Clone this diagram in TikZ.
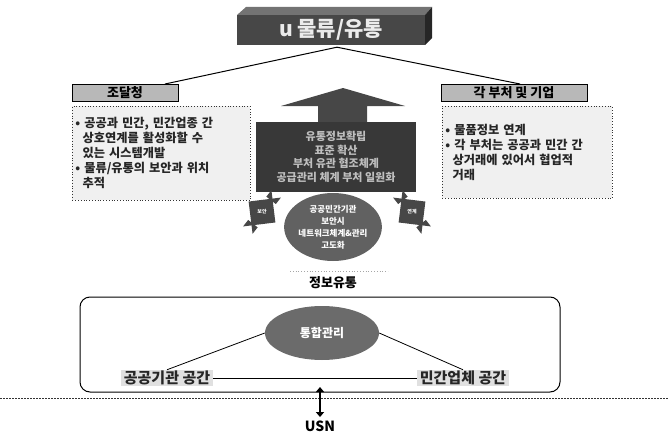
\documentclass[tikz,border=0pt]{standalone}
\usepackage{fontspec}
\setmainfont{Noto Sans CJK KR}
\usetikzlibrary{shapes.geometric,shapes.arrows,arrows.meta}
\begin{document}
\begin{tikzpicture}[x=1pt,y=-1pt,
  topbar/.style={fill=black!72,minimum width=188pt,minimum height=30pt,inner sep=0pt,text=black!8,font=\fontsize{21}{22}\selectfont\bfseries},
  head/.style={draw=black,line width=0.9pt,fill=black!28,minimum height=17pt,inner sep=0pt,font=\fontsize{13}{14}\selectfont\bfseries},
  body/.style={draw=black!80,dotted,line width=0.8pt,fill=black!6,anchor=north west,align=left,inner xsep=3pt,inner ysep=4pt,font=\fontsize{12.2}{15}\selectfont\bfseries,text=black!85},
  darkbox/.style={fill=black!78,minimum width=160pt,minimum height=70pt,inner sep=0pt,align=center,text=black!25,font=\fontsize{11}{13.5}\selectfont\bfseries},
  circ/.style={ellipse,fill=black!62,minimum width=86pt,minimum height=68pt,inner sep=0pt,align=center,text=white,font=\fontsize{8.5}{12}\selectfont\bfseries},
  twist/.style={double arrow,fill=black!72,minimum width=46pt,minimum height=22pt,double arrow head extend=4pt,inner xsep=2pt,inner ysep=7pt},
  twistlabel/.style={inner sep=0pt,text=white,font=\fontsize{5}{5}\selectfont\bfseries},
  space/.style={fill=black!12,inner xsep=3pt,inner ysep=1pt,font=\fontsize{15}{17}\selectfont\bfseries,text=black!85},
  conn/.style={line width=0.8pt,black}]
\useasboundingbox (0,0) rectangle (669,436);
% top 3D bar
\fill[black!55] (246,7) -- (432,7) -- (425,15) -- (237,15) -- cycle;
\fill[black!85] (425,15) -- (432,7) -- (432,38) -- (425,45) -- cycle;
\node[topbar] (top) at (331,30) {u 물류/유통};
\coordinate (lj) at (165,84);
\coordinate (rj) at (520,84);
\path (top.south) ++(6,2) coordinate (tj);
\draw[conn,line width=1pt] (tj) -- (lj);
\draw[conn,line width=1pt] (tj) -- (rj);
% headers
\node[head,minimum width=106pt] (lhead) at (125,93) {조달청};
\node[head,minimum width=146pt] (rhead) at (514,93) {각 부처 및 기업};
% bodies
\node[body,text width=172pt,minimum height=94pt] (lbody) at (72,106)
 {• 공공과 민간, 민간업종 간\\\hspace*{0.6em}상호연계를 활성화할 수\\\hspace*{0.6em}있는 시스템개발\\• 물류/유통의 보안과 위치\\\hspace*{0.6em}추적};
\node[body,text width=164pt,minimum height=92pt] (rbody) at (442,106)
 {• 물품정보 연계\\• 각 부처는 공공과 민간 간\\\hspace*{0.6em}상거래에 있어서 협업적\\\hspace*{0.6em}거래};
% middle arrow and dark box
\fill[black!72] (343,88) -- (405,106) -- (367,106) -- (367,123) -- (318,123) -- (318,106) -- (281,106) -- cycle;
\node[darkbox] (mid) at (336,157) {유통정보확립\\표준 확산\\부처 유관 협조체계\\공급관리 체계 부처 일원화};
% circle
\node[circ] (cir) at (333,227) {공공민간기관\\보안시\\네트워크체계\&관리\\고도화};
\node[twist,rotate=-38] (ltw) at (262,212) {};
\node[twistlabel] (ltwl) at (ltw.center) {보안};
\node[twist,rotate=38] (rtw) at (412,212) {};
\node[twistlabel] (rtwl) at (rtw.center) {연계};
% info flow
\coordinate (fl) at (290,271);
\coordinate (fr) at (388,271);
\draw[black!35,dotted,line width=0.8pt] (fl) -- (fr);
\node[font=\fontsize{13}{15}\selectfont\bfseries] (flow) at (333,283) {정보유통};
% bottom box
\node[draw=black,line width=1pt,rounded corners=10pt,minimum width=480pt,minimum height=95pt,inner sep=0pt] (bbox) at (320,344.5) {};
\node[ellipse,fill=black!58,minimum width=114pt,minimum height=54pt,inner sep=0pt,text=white,font=\fontsize{12}{14}\selectfont\bfseries] (ell) at (322,333) {통합관리};
\node[space] (pub) at (167,378) {공공기관 공간};
\node[space] (priv) at (463,378) {민간업체 공간};
\draw[conn] (pub.east) -- (priv.west);
\draw[conn] (ell.west) -- (pub.north);
\draw[conn] (ell.east) -- (priv.north);
% USN
\coordinate (dl) at (0,398);
\coordinate (dr) at (669,398);
\draw[black!80,line width=0.8pt,dash pattern=on 2pt off 1pt] (dl) -- (dr);
\coordinate (ua) at (320,387);
\node[font=\fontsize{14}{16}\selectfont\bfseries] (usn) at (320,426) {USN};
\draw[line width=2.8pt,{Triangle[length=5pt,width=8pt]}-{Triangle[length=5pt,width=8pt]}] (ua) -- (usn.north);
\end{tikzpicture}
\end{document}
